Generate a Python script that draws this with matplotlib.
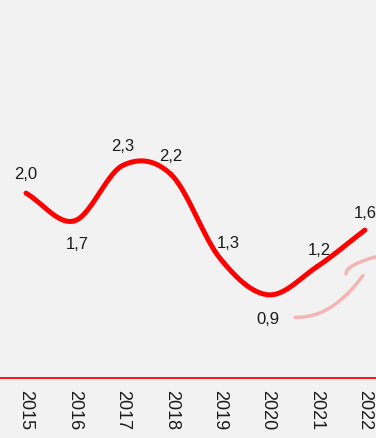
import numpy as np
import matplotlib
matplotlib.use("Agg")
import matplotlib.pyplot as plt

years = ["2015", "2016", "2017", "2018", "2019", "2020", "2021", "2022"]
values = [2.0, 1.7, 2.3, 2.2, 1.3, 0.9, 1.2, 1.6]
labels = ["2,0", "1,7", "2,3", "2,2", "1,3", "0,9", "1,2", "1,6"]

plt.rcParams['font.family'] = ['Liberation Sans', 'DejaVu Sans']

BG = "#f2f2f2"
RED = "#ff0000"

fig = plt.figure(figsize=(3.76, 4.39), dpi=100, facecolor=BG)
ax = fig.add_axes([0, 60/439, 1, 379/439], facecolor=BG)

x = np.arange(len(values), dtype=float)
y = np.array(values)

# Catmull-Rom smoothing through the data points
def catmull(xp, yp, n=30):
    px = np.concatenate([[2*xp[0]-xp[1]], xp, [2*xp[-1]-xp[-2]]])
    py = np.concatenate([[2*yp[0]-yp[1]], yp, [2*yp[-1]-yp[-2]]])
    xs, ys = [], []
    for i in range(1, len(px)-2):
        t = np.linspace(0, 1, n)
        for arr, out in ((px, xs), (py, ys)):
            p0, p1, p2, p3 = arr[i-1], arr[i], arr[i+1], arr[i+2]
            out.append(0.5*((2*p1) + (-p0+p2)*t + (2*p0-5*p1+4*p2-p3)*t**2 + (-p0+3*p1-3*p2+p3)*t**3))
    return np.concatenate(xs), np.concatenate(ys)

sx, sy = catmull(x, y)
ax.plot(sx, sy, color=RED, lw=3.6, solid_capstyle='round', zorder=3)

offsets = [(0, 14), (2, -16), (0, 14), (0, 14), (6, 11), (0, -17), (2, 13), (0, 13)]
for xi, yi, lab, (dx, dy) in zip(x, y, labels, offsets):
    ax.annotate(lab, (xi, yi), xytext=(dx, dy), textcoords='offset points',
                ha='center', va='center', fontsize=12, color='#1a1a1a')

# decorative pink brush strokes (bottom right)
t = np.linspace(0, 1, 50)
bx = 0.785 + (0.965 - 0.785) * t
by = 0.16 + 0.11 * t**2.2
ax.plot(bx, by, transform=ax.transAxes, color="#f5a5a5", lw=2.5, alpha=0.8, solid_capstyle='round')
bx2 = 0.92 + 0.08 * t
by2 = 0.275 + 0.045 * np.sqrt(t)
ax.plot(bx2, by2, transform=ax.transAxes, color="#f5a5a5", lw=2.5, alpha=0.8, solid_capstyle='round')

ax.set_xlim(-0.537, 7.23)
ax.set_ylim(0, 4.1)
for s in ['top', 'right', 'left']:
    ax.spines[s].set_visible(False)
ax.spines['bottom'].set_color(RED)
ax.spines['bottom'].set_linewidth(1.3)
ax.set_yticks([])
ax.set_xticks(x)
ax.set_xticklabels(years, rotation=270, fontsize=13, color='#1a1a1a')
ax.tick_params(axis='x', length=0, pad=8)

fig.savefig("out.png", dpi=100, facecolor=BG)
